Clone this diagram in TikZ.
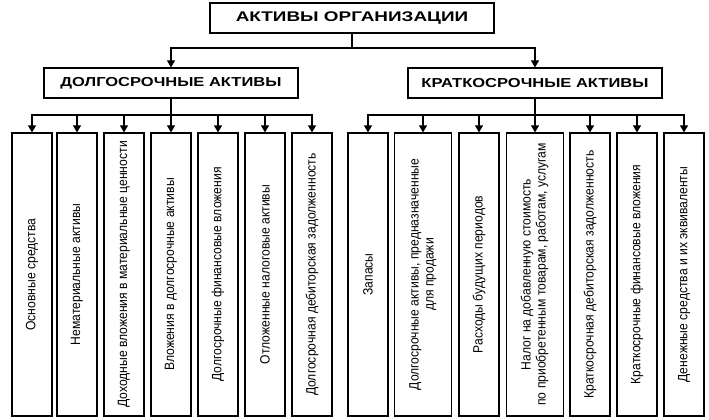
\documentclass[tikz,border=0pt]{standalone}
\usepackage{fontspec}
\setmainfont{Liberation Sans}
\newfontfamily\narrowf[FakeStretch=0.9]{Liberation Sans}
\newfontfamily\widea[FakeStretch=1.35]{Liberation Sans}
\newfontfamily\wideb[FakeStretch=1.27]{Liberation Sans}
\usetikzlibrary{arrows.meta}
\newcommand{\vtext}[1]{\rotatebox{90}{\narrowf\fontsize{13.5}{15}\selectfont #1}}
\newcommand{\vtextii}[2]{\rotatebox{90}{\narrowf\fontsize{13.5}{15}\selectfont\begin{tabular}{@{}c@{}}#1\\#2\end{tabular}}}
\begin{document}
\begin{tikzpicture}[x=1pt,y=-1pt,
  hbox/.style={draw, line width=1.2pt, minimum height=30pt, inner sep=0pt},
  leaf/.style={draw, line width=1.2pt, minimum width=40pt, minimum height=283pt, inner sep=0pt},
  wleaf/.style={leaf, minimum width=57pt},
  conn/.style={line width=1.1pt, -{Triangle[length=7pt,width=8pt]}}]
\useasboundingbox (0,0) rectangle (709,420);
\node[hbox, minimum width=284pt, font=\widea\bfseries\fontsize{14}{16}\selectfont] (top) at (352,18) {АКТИВЫ ОРГАНИЗАЦИИ};
\node[hbox, minimum width=254pt, font=\wideb\bfseries\fontsize{13}{15}\selectfont] (L) at (171,83) {ДОЛГОСРОЧНЫЕ АКТИВЫ};
\node[hbox, minimum width=254pt, font=\wideb\bfseries\fontsize{13}{15}\selectfont] (R) at (535,83) {КРАТКОСРОЧНЫЕ АКТИВЫ};
\draw[conn] (top.south) -- (top.south |- 0,48) -| (L.north);
\draw[conn] (top.south) -- (top.south |- 0,48) -| (R.north);
% left leaves
\node[leaf] (a1) at (32,274.5) {\vtext{Основные средства}};
\node[leaf] (a2) at (77,274.5) {\vtext{Нематериальные активы}};
\node[leaf] (a3) at (124,274.5) {\vtext{Доходные вложения в материальные ценности}};
\node[leaf] (a4) at (171,274.5) {\vtext{Вложения в долгосрочные активы}};
\node[leaf] (a5) at (218,274.5) {\vtext{Долгосрочные финансовые вложения}};
\node[leaf] (a6) at (265,274.5) {\vtext{Отложенные налоговые активы}};
\node[leaf] (a7) at (312,274.5) {\vtext{Долгосрочная дебиторская задолженность}};
% right leaves
\node[leaf] (b1) at (368,274.5) {\vtext{Запасы}};
\node[wleaf] (b2) at (423,274.5) {\vtextii{Долгосрочные активы, предназначенные}{для продажи}};
\node[leaf] (b3) at (479,274.5) {\vtext{Расходы будущих периодов}};
\node[wleaf] (b4) at (535,274.5) {\vtextii{Налог на добавленную стоимость}{по приобретенным товарам, работам, услугам}};
\node[leaf] (b5) at (590,274.5) {\vtext{Краткосрочная дебиторская задолженность}};
\node[leaf] (b6) at (637,274.5) {\vtext{Краткосрочные финансовые вложения}};
\node[leaf] (b7) at (684,274.5) {\vtext{Денежные средства и их эквиваленты}};
\foreach \n in {a1,a2,a3,a4,a5,a6,a7}
  \draw[conn] (L.south) -- (L.south |- 0,115) -| (\n.north);
\foreach \n in {b1,b2,b3,b4,b5,b6,b7}
  \draw[conn] (R.south) -- (R.south |- 0,115) -| (\n.north);
\end{tikzpicture}
\end{document}
